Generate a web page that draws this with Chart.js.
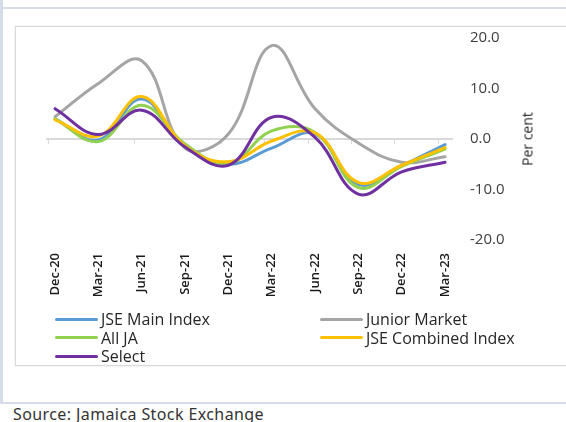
<!DOCTYPE html>
<html>
<head>
<meta charset="utf-8">
<script src="https://cdn.jsdelivr.net/npm/chart.js@4"></script>
<style>
  body { margin: 0; width: 566px; height: 422px; overflow: hidden; background: #fff; position: relative; font-family: "Open Sans", sans-serif; }
  .line-left { position: absolute; left: 0; top: 0; width: 3px; height: 404px; background: #d5dbe7; }
  .line-top { position: absolute; left: 3px; right: 0; top: 7px; height: 2px; background: #d5dbe7; }
  .line-bottom { position: absolute; left: 0; right: 0; top: 402px; height: 2px; background: #d5dbe7; }
  .box { position: absolute; left: 15px; top: 26px; width: 570px; height: 338px; border: 1px solid #d9d9d9; box-shadow: 0 0 2px rgba(0,0,0,0.12); }
  #wrap { position: absolute; left: 0; top: 0; width: 566px; height: 310px; }
  .percent { position: absolute; left: 527px; top: 139px; transform: translate(-50%, -50%) rotate(-90deg); font-size: 14px; color: #262626; white-space: nowrap; }
  #legend { position: absolute; left: 55px; top: 310px; display: grid; grid-template-columns: 265px 210px; font-size: 16px; color: #262626; }
  #legend .item { display: flex; align-items: center; height: 18.5px; white-space: nowrap; }
  #legend .swatch { width: 43px; height: 3px; border-radius: 2px; margin-right: 3px; }
  .source { position: absolute; left: 13px; top: 403px; font-family: "Noto Sans", sans-serif; font-size: 16px; letter-spacing: 0.4px; color: #333; white-space: nowrap; }
</style>
</head>
<body>
<div class="line-left"></div>
<div class="line-top"></div>
<div class="line-bottom"></div>
<div class="box"></div>
<div id="wrap"><canvas id="grafico" width="566" height="310"></canvas></div>
<div class="percent">Per cent</div>
<div id="legend"></div>
<div class="source">Source: Jamaica Stock Exchange</div>

<script>
const quarters = ['Dec-20', 'Mar-21', 'Jun-21', 'Sep-21', 'Dec-21', 'Mar-22', 'Jun-22', 'Sep-22', 'Dec-22', 'Mar-23'];
const yTicks = [-20, -10, 0, 10, 20];

const jseMain = [4.0, -0.2, 7.9, -1.5, -5.0, -1.8, 1.0, -9.0, -5.3, -1.1];
const junior = [4.4, 11.0, 15.5, -1.8, 1.0, 18.5, 6.0, -0.8, -4.6, -3.5];
const allJa = [4.0, -0.5, 6.7, -1.0, -4.9, 1.6, 1.3, -9.6, -5.4, -2.0];
const combined = [3.8, 0.6, 8.4, -1.4, -4.5, -0.4, 1.2, -8.6, -5.2, -1.7];
const select = [6.0, 0.9, 5.7, -1.6, -5.2, 4.3, 0.3, -10.9, -6.5, -4.6];

const series = [
  { label: 'JSE Main Index', data: jseMain, color: '#5b9bd5', order: 4 },
  { label: 'Junior Market', data: junior, color: '#a5a5a5', order: 3 },
  { label: 'All JA', data: allJa, color: '#92d050', order: 2 },
  { label: 'JSE Combined Index', data: combined, color: '#ffc000', order: 1 },
  { label: 'Select', data: select, color: '#7030a0', order: 0 }
];

const xMin = -0.185;
const xMax = 9.16;

const chart = new Chart(document.getElementById('grafico'), {
  type: 'line',
  data: {
    datasets: series.map(s => ({
      label: s.label,
      data: s.data.map((v, i) => ({ x: i, y: v })),
      borderColor: s.color,
      backgroundColor: s.color,
      borderWidth: 3,
      pointRadius: 0,
      tension: 0.4,
      fill: false,
      order: s.order,
      borderCapStyle: 'round',
      borderJoinStyle: 'round'
    }))
  },
  options: {
    responsive: false,
    devicePixelRatio: 1,
    animation: false,
    layout: { padding: { left: 47, top: 38, right: 0, bottom: 0 } },
    plugins: {
      legend: { display: false },
      tooltip: { enabled: false }
    },
    scales: {
      x: {
        type: 'linear',
        position: 'bottom',
        min: xMin,
        max: xMax,
        afterBuildTicks: scale => { scale.ticks = quarters.map((q, i) => ({ value: i })); },
        afterFit: scale => { scale.height = 70; },
        grid: { display: false },
        border: { display: false },
        ticks: {
          autoSkip: false,
          minRotation: 90,
          maxRotation: 90,
          padding: 5,
          color: '#1a1a1a',
          font: { family: 'Open Sans', size: 13, weight: '600' },
          callback: value => quarters[value]
        }
      },
      x0: {
        type: 'linear',
        position: { y: 0 },
        min: xMin,
        max: xMax,
        afterBuildTicks: scale => { scale.ticks = quarters.map((q, i) => ({ value: i - 0.16 })); },
        grid: { drawOnChartArea: false, drawTicks: true, tickLength: 4, color: '#d9d9d9', lineWidth: 1 },
        border: { color: '#d9d9d9', width: 2 },
        ticks: { display: false }
      },
      y: {
        position: 'right',
        min: -20,
        max: 20,
        afterBuildTicks: scale => { scale.ticks = yTicks.map(v => ({ value: v })); },
        afterFit: scale => { scale.width = 114; },
        grid: { display: false, drawTicks: false },
        border: { display: false },
        ticks: {
          padding: 18,
          color: '#404040',
          font: { family: 'Open Sans', size: 15 },
          callback: value => value.toFixed(1)
        }
      }
    }
  }
});

// leyenda en HTML, dos columnas como el original
const legend = document.getElementById('legend');
series.forEach(s => {
  const item = document.createElement('div');
  item.className = 'item';
  item.innerHTML = '<span class="swatch" style="background:' + s.color + '"></span><span>' + s.label + '</span>';
  legend.appendChild(item);
});
</script>
</body>
</html>
